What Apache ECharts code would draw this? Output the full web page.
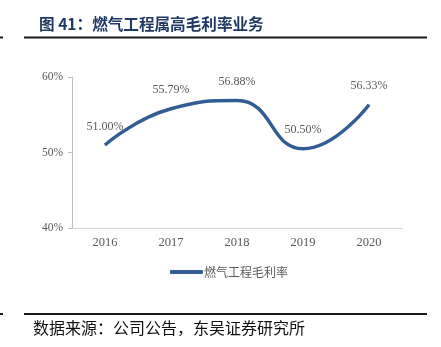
<!DOCTYPE html>
<html><head><meta charset="utf-8">
<script src="https://cdn.jsdelivr.net/npm/echarts@6/dist/echarts.min.js"></script>
<style>html,body{margin:0;padding:0;background:#fff}#c{width:441px;height:347px}</style>
</head><body><div id="c"></div>
<script>
const titleText = '图 41：燃气工程属高毛利率业务';
const sourceText = '数据来源：公司公告，东吴证券研究所';
const seriesName = '燃气工程毛利率';
const years = ['2016', '2017', '2018', '2019', '2020'];
const margins = [51.00, 55.79, 56.88, 50.50, 56.33];
const yTicks = [40, 50, 60];

const chart = echarts.init(document.getElementById('c'), null, {renderer: 'canvas'});
const gray = '#595959';
const lineColor = '#325d94';
chart.setOption({
  animation: false,
  backgroundColor: '#fff',
  title: {
    text: titleText, left: 34, top: 11,
    textStyle: {fontFamily: 'Noto Sans CJK SC', fontWeight: 'bold', fontSize: 15.6, color: '#1f3864'}
  },
  graphic: [
    {type: 'line', shape: {x1: 24, y1: 37.5, x2: 427, y2: 37.5}, style: {stroke: '#1a1a1a', lineWidth: 2}},
    {type: 'line', shape: {x1: 0, y1: 37.5, x2: 3, y2: 37.5}, style: {stroke: '#1a1a1a', lineWidth: 2}},
    {type: 'line', shape: {x1: 24, y1: 314, x2: 427, y2: 314}, style: {stroke: '#1a1a1a', lineWidth: 2}},
    {type: 'line', shape: {x1: 0, y1: 314, x2: 3, y2: 314}, style: {stroke: '#1a1a1a', lineWidth: 2}},
    {type: 'text', left: 33, top: 320, style: {text: sourceText, font: '16px "Noto Sans CJK SC"', fill: '#111'}}
  ],
  grid: {left: 72, right: 39, top: 77, bottom: 119},
  legend: {
    data: [{name: seriesName, icon: 'roundRect'}], left: 165, top: 261, itemWidth: 33, itemHeight: 4, itemGap: 4,
    itemStyle: {color: lineColor},
    textStyle: {fontFamily: 'Noto Sans CJK SC', fontSize: 12, color: gray, padding: [0,0,0,-4]}
  },
  xAxis: {
    type: 'category', data: years, boundaryGap: true,
    axisLine: {lineStyle: {color: '#d9d9d9'}},
    axisTick: {show: false},
    axisLabel: {fontFamily: 'Liberation Serif', fontSize: 12.5, color: gray, margin: 8}
  },
  yAxis: {
    type: 'value', min: 40, max: 60, interval: 10,
    axisLine: {show: true, lineStyle: {color: '#bfbfbf'}},
    axisTick: {show: true, length: 4, lineStyle: {color: '#bfbfbf'}},
    splitLine: {show: false},
    axisLabel: {fontFamily: 'Liberation Serif', fontSize: 11.5, color: gray, margin: 9,
      formatter: v => yTicks.includes(v) ? v + '%' : ''}
  },
  series: [{
    name: seriesName, type: 'line', data: margins, smooth: 0.5,
    symbol: 'circle', symbolSize: 1, showSymbol: true,
    lineStyle: {color: lineColor, width: 3.5}, itemStyle: {color: lineColor},
    label: {show: true, position: 'top', distance: 12, fontFamily: 'Liberation Serif', fontSize: 12, color: gray,
      formatter: p => p.value.toFixed(2) + '%'}
  }]
});
</script></body></html>
